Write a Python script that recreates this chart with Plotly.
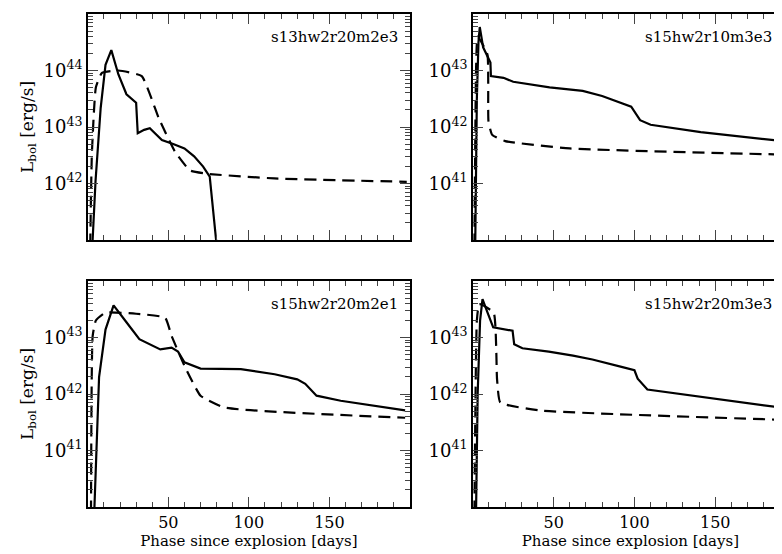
import plotly.graph_objects as go
import numpy as np

# top-left s13hw2r20m2e3
tl_sol_d = [3, 4.8, 8, 11, 14.6, 19, 24, 30, 31, 35, 38.5, 46, 53, 60, 66, 71.6, 75.7, 78, 80]
tl_sol_l = [41.0, 42.04, 43.34, 44.1, 44.36, 43.93, 43.58, 43.43, 42.89, 42.95, 42.98, 42.77, 42.7, 42.62, 42.48, 42.3, 42.12, 41.5, 40.9]
tl_das_d = [1.5, 2.5, 5, 8.8, 19, 33.5, 44, 54, 63.5, 74.7, 115.8, 198]
tl_das_l = [40.9, 42.5, 43.7, 43.96, 44.0, 43.9, 43.16, 42.57, 42.23, 42.17, 42.09, 42.03]
# top-right s15hw2r10m3e3
tr_sol_d = [1.5, 2.5, 3.5, 4.3, 6.4, 10.9, 11.2, 19, 25, 47.5, 68, 80, 98, 103.5, 110, 141, 195]
tr_sol_l = [39.9, 42.5, 43.5, 43.77, 43.41, 43.14, 42.9, 42.87, 42.8, 42.7, 42.64, 42.55, 42.36, 42.12, 42.04, 41.91, 41.74]
tr_das_d = [1, 2, 3, 9, 9.7, 12, 20, 60, 195]
tr_das_l = [39.9, 43.0, 43.6, 43.29, 42.1, 41.86, 41.75, 41.62, 41.51]
# bottom-left s15hw2r20m2e1
bl_sol_d = [4, 7, 11, 16, 24, 32, 45, 52, 56, 60, 70, 95, 116, 130, 135, 142, 157, 197]
bl_sol_l = [39.9, 42.3, 43.14, 43.57, 43.27, 42.97, 42.79, 42.82, 42.75, 42.56, 42.45, 42.44, 42.35, 42.26, 42.18, 41.97, 41.88, 41.71]
bl_das_d = [2, 3, 5, 11, 30, 48, 52, 60, 70, 85, 197]
bl_das_l = [39.9, 43.02, 43.3, 43.44, 43.42, 43.35, 43.03, 42.5, 41.97, 41.76, 41.58]
# bottom-right s15hw2r20m3e3
br_sol_d = [2, 3, 4.5, 6, 9, 12.6, 24.6, 25.6, 30.7, 47, 62, 74, 92, 100, 102, 108, 193]
br_sol_l = [39.9, 42.0, 43.3, 43.68, 43.45, 43.18, 43.12, 42.88, 42.81, 42.75, 42.68, 42.61, 42.48, 42.42, 42.27, 42.08, 41.75]
br_das_d = [1, 2.5, 4, 12.9, 15, 17, 41, 195]
br_das_l = [39.9, 43.3, 43.59, 43.44, 42.26, 41.85, 41.71, 41.54]

labels = ["s13hw2r20m2e3", "s15hw2r10m3e3", "s15hw2r20m2e1", "s15hw2r20m3e3"]
data = [(tl_sol_d, tl_sol_l, tl_das_d, tl_das_l), (tr_sol_d, tr_sol_l, tr_das_d, tr_das_l),
        (bl_sol_d, bl_sol_l, bl_das_d, bl_das_l), (br_sol_d, br_sol_l, br_das_d, br_das_l)]
yranges = [(41, 45), (40, 44), (40, 44), (40, 44)]

W, H = 782, 554
xdom = [(80 / W, 403 / W), (466 / W, 1.0)]
ydom = [(1 - 232 / H, 1 - 6 / H), (1 - 499 / H, 1 - 273 / H)]
font = "DejaVu Serif"

fig = go.Figure()
for i, (sd, sl, dd, dl) in enumerate(data):
    n = i + 1
    xa = "x" if n == 1 else f"x{n}"
    ya = "y" if n == 1 else f"y{n}"
    fig.add_trace(go.Scatter(x=sd, y=[10.0 ** v for v in sl], mode="lines", line=dict(color="black", width=2.2),
                             xaxis=xa, yaxis=ya, showlegend=False))
    fig.add_trace(go.Scatter(x=dd, y=[10.0 ** v for v in dl], mode="lines", line=dict(color="black", width=2.2, dash="12px,7px", shape="spline", smoothing=0.4),
                             xaxis=xa, yaxis=ya, showlegend=False))
    r, c = divmod(i, 2)
    lo, hi = yranges[i]
    majors = [10.0 ** k for k in range(lo + 1, hi)]
    minors = [m * 10.0 ** k for k in range(lo, hi) for m in range(2, 10)]
    fig.layout[f"xaxis{'' if n == 1 else n}"] = dict(
        domain=xdom[c], range=[0, 200 if c == 0 else 195], anchor=ya,
        tickvals=[50, 100, 150], showticklabels=(r == 1), ticks="inside", ticklen=10, mirror="ticks",
        showline=True, linecolor="black", linewidth=1.5, showgrid=False, zeroline=False,
        minor=dict(tickvals=[v for v in range(10, 200, 10) if v % 50], ticks="inside", ticklen=5, showgrid=False),
        tickfont=dict(family=font, size=16, color="black"),
        title=dict(text="Phase since explosion [days]" if r == 1 else "", font=dict(family=font, size=15, color="black"), standoff=0))
    fig.layout[f"yaxis{'' if n == 1 else n}"] = dict(
        domain=ydom[r], type="log", range=[lo, hi], anchor=xa,
        tickvals=majors, ticktext=[f"10<sup>{k}</sup>" for k in range(lo + 1, hi)],
        ticks="inside", ticklen=10, mirror="ticks", showline=True, linecolor="black", linewidth=1.5,
        showgrid=False, zeroline=False,
        minor=dict(tickvals=minors, ticks="inside", ticklen=5, showgrid=False),
        tickfont=dict(family=font, size=18, color="black"),
        title=dict(text="L<sub>bol</sub> [erg/s]" if c == 0 else "", font=dict(family=font, size=17, color="black"), standoff=6))
    fig.add_annotation(text=labels[i], xref=f"{xa} domain", yref=f"{ya} domain", x=0.97 if c == 0 else 0.955, y=0.9,
                       xanchor="right", yanchor="middle", showarrow=False,
                       font=dict(family=font, size=15, color="black"))

fig.update_layout(width=W, height=H, margin=dict(l=0, r=0, t=0, b=0), plot_bgcolor="white", paper_bgcolor="white",
                  font=dict(family=font, size=16, color="black"))
fig.write_html("out.html")
